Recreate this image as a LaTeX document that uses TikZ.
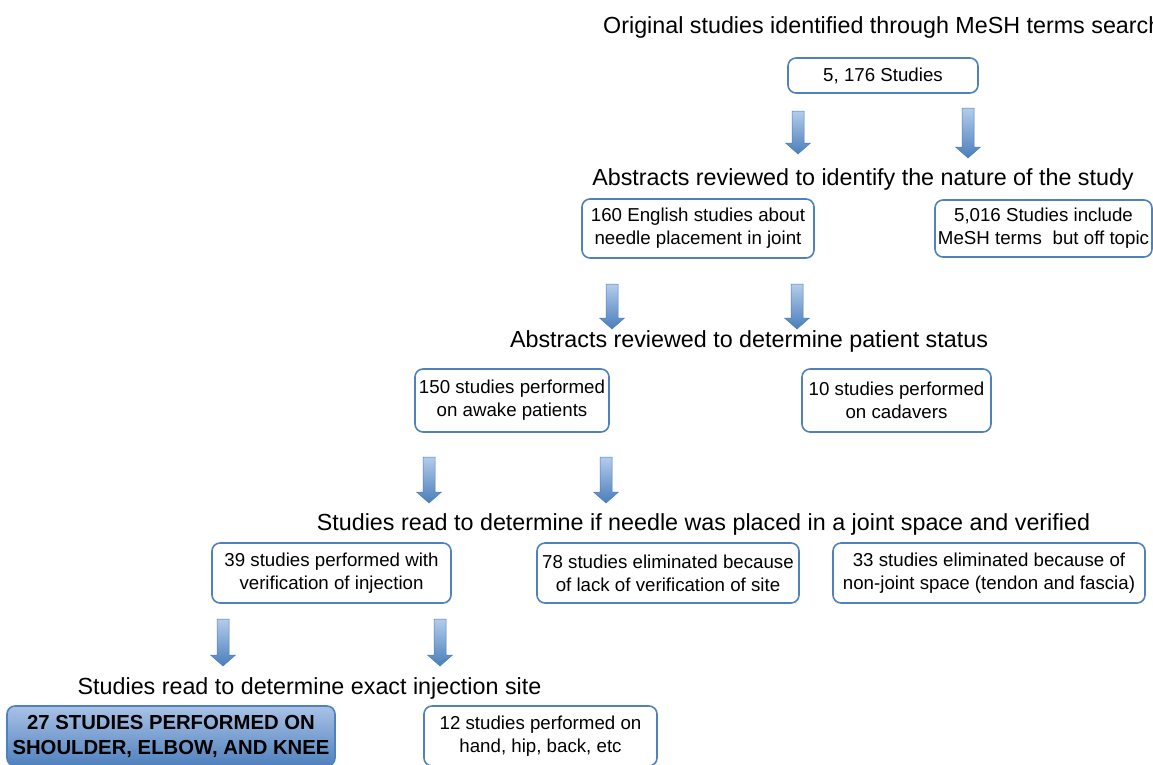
\documentclass[tikz,border=0pt]{standalone}
\usepackage{fontspec}
\setmainfont{Liberation Sans}
\usetikzlibrary{calc}
\definecolor{boxblue}{HTML}{4F81BD}
\definecolor{arrowlight}{HTML}{B4CCEB}
\definecolor{arrowdark}{HTML}{4A7EBB}
\definecolor{fill27top}{HTML}{A9C2E6}
\definecolor{fill27bot}{HTML}{4F81BD}
\tikzset{
  box/.style={draw=boxblue, line width=1.6pt, rounded corners=8pt, align=center,
    font=\fontsize{18.7}{23}\selectfont, inner sep=0pt, fill=white},
  hibox/.style={box, fill=none, top color=fill27top, bottom color=fill27bot,
    font=\fontsize{20.3}{25}\selectfont\bfseries},
  titletext/.style={font=\fontsize{23.3}{28}\selectfont, anchor=base, inner sep=0pt},
  blockarrow/.style={draw=arrowdark, line width=0.5pt, top color=arrowlight, bottom color=arrowdark}
}
\newcommand\dnarrow[4]{% name, x, ytop, ybottom
  \coordinate (#1) at (#2,#3);
  \path[blockarrow, shift={(#1)}] (-6,0) -- (6,0) -- (6,{#4-#3-11}) -- (12.5,{#4-#3-11})
    -- (0,{#4-#3}) -- (-12.5,{#4-#3-11}) -- (-6,{#4-#3-11}) -- cycle;
}
\begin{document}
\begin{tikzpicture}[x=1pt, y=-1pt]
\path[use as bounding box] (0,0) rectangle (1153,764);
\clip (0,0) rectangle (1153,764);

% titles
\node[titletext, anchor=base west] (t1) at (603,33) {Original studies identified through MeSH terms search};
\node[titletext] (t2) at (863,185) {Abstracts reviewed to identify the nature of the study};
\node[titletext] (t3) at (749,347) {Abstracts reviewed to determine patient status};
\node[titletext] (t4) at (703.5,530) {Studies read to determine if needle was placed in a joint space and verified};
\node[titletext] (t5) at (309.5,694) {Studies read to determine exact injection site};

% boxes
\node[box, minimum width=190pt, minimum height=35pt] (b0) at (883,75.5) {5, 176 Studies};
\node[box, minimum width=232pt, minimum height=59pt] (b1) at (698,228.5) {160 English studies about\\needle placement in joint};
\node[box, minimum width=217pt, minimum height=57pt] (b2) at (1043.5,228.5) {5,016 Studies include\\MeSH terms\hspace{0.3em} but off topic};
\node[box, minimum width=194pt, minimum height=63pt] (b3) at (512,400.5) {150 studies performed\\on awake patients};
\node[box, minimum width=189pt, minimum height=63pt] (b4) at (896.5,400.5) {10 studies performed\\on cadavers};
\node[box, minimum width=239pt, minimum height=60pt] (b5) at (331.5,573) {39 studies performed with\\verification of injection};
\node[box, minimum width=262pt, minimum height=60pt] (b6) at (668,573) {78 studies eliminated because\\of lack of verification of site};
\node[box, minimum width=312pt, minimum height=60pt] (b7) at (989,573) {33 studies eliminated because of\\non-joint space (tendon and fascia)};
\node[hibox, minimum width=328pt, minimum height=60pt] (b8) at (171,736) {27 STUDIES PERFORMED ON\\SHOULDER, ELBOW, AND KNEE};
\node[box, minimum width=233pt, minimum height=60pt] (b9) at (540.5,736) {12 studies performed on\\hand, hip, back, etc};

% block arrows
\dnarrow{a1}{798}{111}{154}
\dnarrow{a2}{968}{108}{158}
\dnarrow{a3}{612}{284}{329}
\dnarrow{a4}{797}{284}{329}
\dnarrow{a5}{429}{457}{503}
\dnarrow{a6}{606}{457}{503}
\dnarrow{a7}{223}{619}{666}
\dnarrow{a8}{440}{619}{666}
\end{tikzpicture}
\end{document}
